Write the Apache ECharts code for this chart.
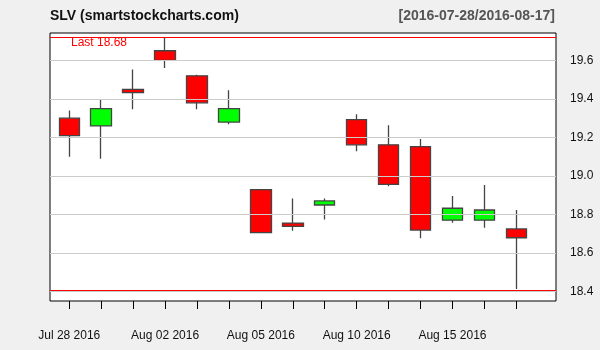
<!DOCTYPE html>
<html><head><meta charset="utf-8">
<script src="https://cdn.jsdelivr.net/npm/echarts@6/dist/echarts.min.js"></script>
<style>html,body{margin:0;padding:0;background:#f0f0f0;}#c{width:600px;height:350px;}</style>
</head><body><div id="c"></div>
<script>
const dates = ['Jul 28 2016','Jul 29 2016','Aug 01 2016','Aug 02 2016','Aug 03 2016','Aug 04 2016','Aug 05 2016','Aug 08 2016','Aug 09 2016','Aug 10 2016','Aug 11 2016','Aug 12 2016','Aug 15 2016','Aug 16 2016','Aug 17 2016'];
const opens  = [19.30, 19.26, 19.45, 19.65, 19.52, 19.28, 18.93, 18.756, 18.850, 19.293, 19.162, 19.153, 18.771, 18.771, 18.726];
const closes = [19.21, 19.35, 19.433, 19.60, 19.38, 19.35, 18.707, 18.739, 18.871, 19.162, 18.957, 18.720, 18.833, 18.824, 18.68];
const lows   = [19.10, 19.09, 19.347, 19.561, 19.347, 19.269, 18.707, 18.716, 18.775, 19.129, 18.947, 18.678, 18.758, 18.732, 18.414];
const highs  = [19.34, 19.40, 19.553, 19.716, 19.525, 19.445, 18.93, 18.883, 18.883, 19.32, 19.263, 19.192, 18.897, 18.954, 18.824];
const yTicks = [18.4, 18.6, 18.8, 19.0, 19.2, 19.4, 19.6];
const Y_MIN = 18.352, Y_MAX = 19.742;

const candleData = dates.map((d, i) => [opens[i], closes[i], lows[i], highs[i]]);
const maxHigh = Math.max(...highs), minLow = Math.min(...lows);
const lastClose = closes[closes.length - 1];

const chart = echarts.init(document.getElementById('c'), null, {renderer: 'canvas'});
const font = 'Liberation Sans, Arial, sans-serif';
chart.setOption({
  backgroundColor: '#f0f0f0',
  animation: false,
  textStyle: {fontFamily: font},
  title: [
    {text: 'SLV (smartstockcharts.com)', left: 50, top: 9, padding: 0, textStyle: {fontSize: 14, fontWeight: 'bold', color: '#111', fontFamily: font}},
    {text: '[2016-07-28/2016-08-17]', right: 45, top: 9, padding: 0, textStyle: {fontSize: 14, fontWeight: 'bold', color: '#555', fontFamily: font}}
  ],
  grid: [
    {left: 50, right: 44, top: 33, bottom: 49, show: true, backgroundColor: '#fff', borderColor: '#000', borderWidth: 1},
    {left: 53.3, right: 67.7, top: 33, bottom: 49}
  ],
  xAxis: [
    {type: 'value', gridIndex: 0, min: 0, max: 1, show: false},
    {type: 'category', gridIndex: 1, data: dates, boundaryGap: true,
     axisLine: {show: false},
     axisTick: {show: true, alignWithLabel: true, interval: 0, length: 8, lineStyle: {color: '#000'}},
     axisLabel: {interval: (i) => i % 3 === 0 && i <= 12, margin: 29, fontSize: 12, color: '#111', fontFamily: font},
     splitLine: {show: false}}
  ],
  yAxis: [
    {type: 'value', gridIndex: 0, min: Y_MIN, max: Y_MAX, position: 'right',
     axisLine: {show: false}, splitLine: {show: false},
     axisTick: {show: true, length: 7, customValues: yTicks, lineStyle: {color: '#000'}},
     axisLabel: {customValues: yTicks, formatter: (v) => v.toFixed(1), margin: 14, fontSize: 12, color: '#111', fontFamily: font}},
    {type: 'value', gridIndex: 1, min: Y_MIN, max: Y_MAX, show: false}
  ],
  graphic: [
    {type: 'text', left: 71, top: 37, z: 100, style: {text: 'Last ' + lastClose.toFixed(2), fill: '#ff0000', font: '12px ' + font}}
  ],
  series: [
    {type: 'line', xAxisIndex: 0, yAxisIndex: 0, data: [], silent: true, z: 1,
     markLine: {silent: true, symbol: 'none', label: {show: false}, animation: false,
       data: yTicks.map(v => ({yAxis: v, lineStyle: {color: '#cccccc', width: 1, type: 'solid'}}))
         .concat([{yAxis: maxHigh, lineStyle: {color: '#ff0000', width: 1, type: 'solid'}},
                  {yAxis: minLow, lineStyle: {color: '#ff0000', width: 1, type: 'solid'}}])}},
    {type: 'candlestick', xAxisIndex: 1, yAxisIndex: 1, data: candleData, barWidth: 21, z: 3,
     itemStyle: {color: '#00ff00', color0: '#ff0000', borderColor: '#444', borderColor0: '#444', borderWidth: 1.3}}
  ]
});
</script></body></html>
